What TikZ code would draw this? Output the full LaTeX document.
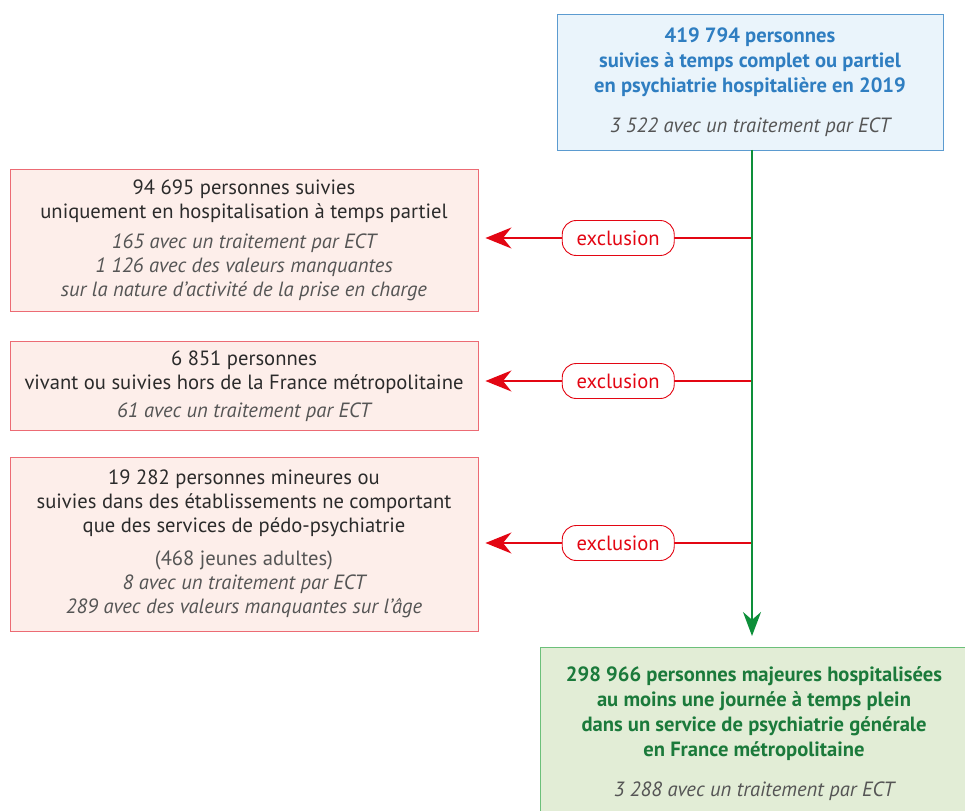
\documentclass[tikz,border=0pt]{standalone}
\usepackage{fontspec}
\setmainfont{PT Sans}
\usetikzlibrary{arrows.meta}
\definecolor{topblue}{HTML}{2F7EC1}
\definecolor{lineblue}{HTML}{5B9BD0}
\definecolor{fillblue}{HTML}{EAF4FB}
\definecolor{exred}{HTML}{E30613}
\definecolor{lineredl}{HTML}{EC6B74}
\definecolor{fillred}{HTML}{FDEEEA}
\definecolor{flowgreen}{HTML}{0E8F3A}
\definecolor{textgreen}{HTML}{1B7A3B}
\definecolor{linegreen}{HTML}{6CC07A}
\definecolor{fillgreen}{HTML}{E2EDD6}
\definecolor{maintext}{HTML}{2B2B2B}
\definecolor{subtext}{HTML}{555555}
\newcommand{\subl}[1]{{\itshape\color{subtext}#1}}
\begin{document}
\begin{tikzpicture}[x=1pt, y=-1pt,
    every node/.style={font=\fontsize{20.6}{24}\selectfont},
    topbox/.style={draw=lineblue, fill=fillblue, line width=0.9pt, minimum width=386pt, minimum height=136pt, align=center, text=topblue, font=\fontsize{20.6}{25}\selectfont},
    exclbox/.style={draw=lineredl, fill=fillred, line width=0.9pt, minimum width=468pt, align=center, text=maintext},
    finalbox/.style={draw=linegreen, fill=fillgreen, line width=0.9pt, minimum width=428pt, inner ysep=19pt, align=center, text=textgreen, font=\fontsize{20.6}{25}\selectfont},
    pill/.style={draw=exred, fill=white, line width=0.9pt, rounded corners=14pt, minimum width=112pt, minimum height=35pt, text=exred, inner sep=2pt},
    flow/.style={draw=flowgreen, line width=2pt, -{Stealth[length=24pt, width=18pt]}},
    excl/.style={draw=exred, line width=1.4pt, -{Stealth[length=26pt, width=21pt]}}]
  \useasboundingbox (0,0) rectangle (965,810);

  % start population
  \node[topbox] (start) at (750,82) {\bfseries 419 794 personnes\\ \bfseries suivies à temps complet ou partiel\\ \bfseries en psychiatrie hospitalière en 2019\\[15pt] \subl{3 522 avec un traitement par ECT}};

  % final population
  \node[finalbox, anchor=north] (final) at (754,647) {\bfseries 298 966 personnes majeures hospitalisées\\ \bfseries au moins une journée à temps plein\\ \bfseries dans un service de psychiatrie générale\\ \bfseries en France métropolitaine\\[15pt] \subl{3 288 avec un traitement par ECT}};

  % excluded populations
  \node[exclbox, minimum height=142pt] (excla) at (244,240) {94 695 personnes suivies\\ uniquement en hospitalisation à temps partiel\\[6pt] \subl{165 avec un traitement par ECT}\\ \subl{1 126 avec des valeurs manquantes}\\ \subl{sur la nature d’activité de la prise en charge}};
  \node[exclbox, minimum height=89pt] (exclb) at (244,386) {6 851 personnes\\ vivant ou suivies hors de la France métropolitaine\\[4pt] \subl{61 avec un traitement par ECT}};
  \node[exclbox, minimum height=174pt] (exclc) at (244,544) {19 282 personnes mineures ou\\ suivies dans des établissements ne comportant\\ que des services de pédo-psychiatrie\\[9pt] {\color{subtext}(468 jeunes adultes)}\\ \subl{8 avec un traitement par ECT}\\ \subl{289 avec des valeurs manquantes sur l’âge}};

  % main flow
  \coordinate (flowend) at (752,636);
  \draw[flow] (752,150) -- (flowend);

  % exclusion arrows
  \coordinate (ca) at (751,238);
  \coordinate (cb) at (751,381);
  \coordinate (cc) at (751,543);
  \draw[excl] (ca) -- ([xshift=7pt]excla.east |- ca) node[pill, pos=0.5] (pa) {exclusion};
  \draw[excl] (cb) -- ([xshift=7pt]exclb.east |- cb) node[pill, pos=0.5] (pb) {exclusion};
  \draw[excl] (cc) -- ([xshift=7pt]exclc.east |- cc) node[pill, pos=0.5] (pc) {exclusion};
\end{tikzpicture}
\end{document}
